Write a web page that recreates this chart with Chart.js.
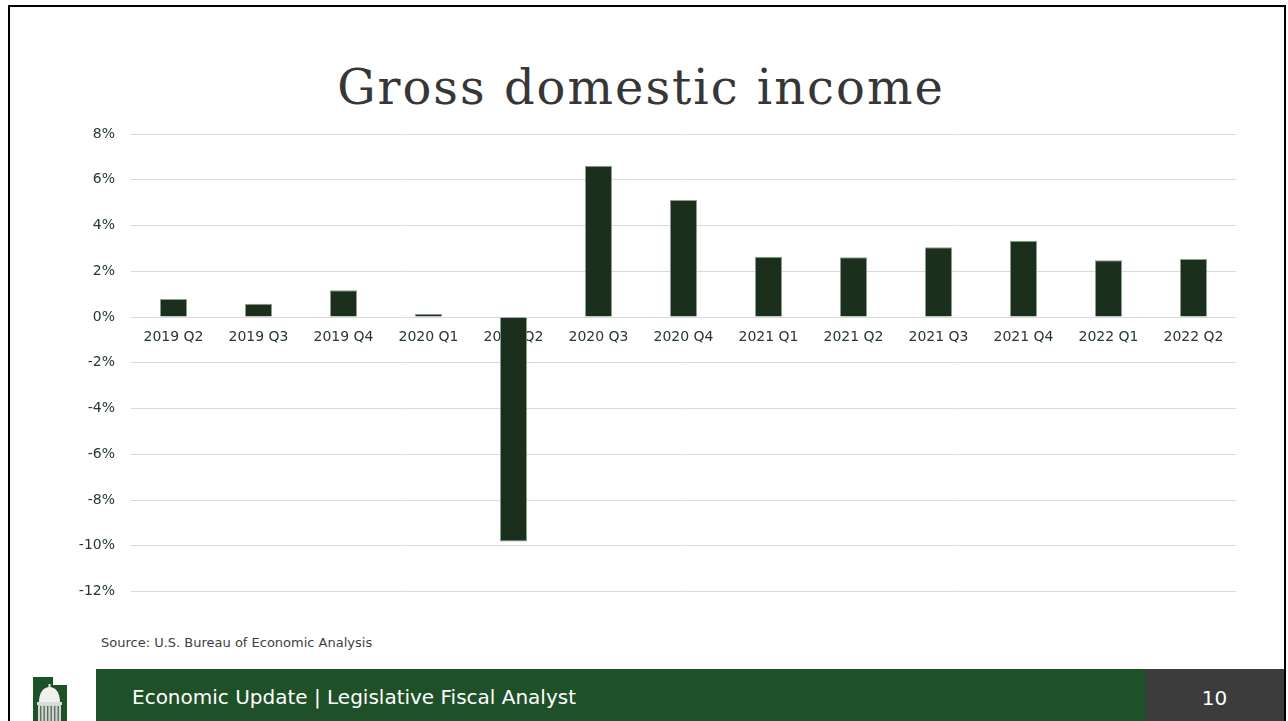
<!DOCTYPE html>
<html>
<head>
<meta charset="utf-8">
<script src="https://cdn.jsdelivr.net/npm/chart.js@4.4.0/dist/chart.umd.min.js"></script>
<style>
  html, body { margin: 0; padding: 0; background: #fff; }
  body { width: 1288px; height: 721px; position: relative; overflow: hidden; font-family: "DejaVu Sans", sans-serif; }
  .frame { position: absolute; left: 8px; top: 5px; width: 1274px; height: 730px; border: 2px solid #000; }
  .title { position: absolute; left: 0; width: 1282px; top: 57px; text-align: center; letter-spacing: 2px;
           font-family: "DejaVu Serif", serif; font-size: 48px; color: #363636; line-height: 60px; }
  .chart-box { position: absolute; left: 0; top: 100px; width: 1288px; height: 516px; }
  .source { position: absolute; left: 101px; top: 635px; font-size: 13px; color: #404040; }
  .bar { position: absolute; left: 96px; top: 669px; width: 1049px; height: 60px; background: #1e5128; }
  .bar span { position: absolute; left: 36px; top: 16px; color: #fff; font-size: 20px; }
  .page { position: absolute; left: 1145px; top: 669px; width: 139px; height: 60px; background: #3c3c3c;
          color: #fff; font-size: 20px; text-align: center; line-height: 58px; }
  .logo { position: absolute; left: 33px; top: 677px; }
</style>
</head>
<body>
<div class="frame"></div>
<div class="title">Gross domestic income</div>
<div class="chart-box"><canvas id="gdi"></canvas></div>
<div class="source">Source: U.S. Bureau of Economic Analysis</div>
<div class="bar"><span>Economic Update | Legislative Fiscal Analyst</span></div>
<div class="page">10</div>
<svg class="logo" width="34" height="44" viewBox="0 0 34 44">
  <path d="M0 0 H20 V8 H34 V44 H0 Z" fill="#1e5128"/>
  <rect x="15.5" y="7" width="2" height="5" fill="#e8ece8"/>
  <path d="M6 25 C6 15 11 10 16.5 10 C22 10 27 15 27 25 Z" fill="#eef1ee"/>
  <rect x="4" y="25" width="25" height="3" fill="#d8ddd8"/>
  <rect x="5" y="28" width="23" height="16" fill="#cfd6cf"/>
  <g fill="#5b6f5e">
    <rect x="7" y="29" width="1.4" height="15"/><rect x="10.5" y="29" width="1.4" height="15"/>
    <rect x="14" y="29" width="1.4" height="15"/><rect x="17.5" y="29" width="1.4" height="15"/>
    <rect x="21" y="29" width="1.4" height="15"/><rect x="24.5" y="29" width="1.4" height="15"/>
  </g>
</svg>
<script>
// Quarterly GDI change, percent
const quarters = [
  "2019 Q2", "2019 Q3", "2019 Q4", "2020 Q1", "2020 Q2", "2020 Q3", "2020 Q4",
  "2021 Q1", "2021 Q2", "2021 Q3", "2021 Q4", "2022 Q1", "2022 Q2",
];
const gdiChange = [0.79, 0.58, 1.17, 0.14, -9.81, 6.61, 5.11, 2.64, 2.61, 3.05, 3.33, 2.48, 2.54];

const yMin = -12, yMax = 8, yStep = 2;

const tickColor = "#263a2a";

new Chart(document.getElementById("gdi"), {
  type: "bar",
  data: {
    labels: quarters,
    datasets: [{
      label: "GDI",
      data: gdiChange,
      backgroundColor: "#1b2f1d",
      borderColor: "#8f9e90",
      borderWidth: 1,
      categoryPercentage: 1,
      barPercentage: 0.32,
    }],
  },
  options: {
    responsive: true,
    maintainAspectRatio: false,
    animation: false,
    layout: { padding: { left: 0, right: 52, top: 34, bottom: 13 } },
    plugins: { legend: { display: false }, tooltip: { enabled: false } },
    scales: {
      x: {
        position: { y: 0 },
        afterFit: (s) => { s.height = 0; },
        grid: { display: false, drawTicks: false },
        border: { display: false },
        ticks: { color: tickColor, font: { family: "DejaVu Sans", size: 14 }, padding: 12, maxRotation: 0, autoSkip: false },
      },
      y: {
        min: yMin,
        max: yMax,
        afterFit: (s) => { s.width = 131; },
        ticks: {
          stepSize: yStep,
          color: tickColor,
          padding: 16,
          font: { family: "DejaVu Sans", size: 14 },
          callback: (v) => v + "%",
        },
        grid: { color: "#d9d9d9", drawTicks: false },
        border: { display: false },
      },
    },
  },
});
</script>
</body>
</html>
